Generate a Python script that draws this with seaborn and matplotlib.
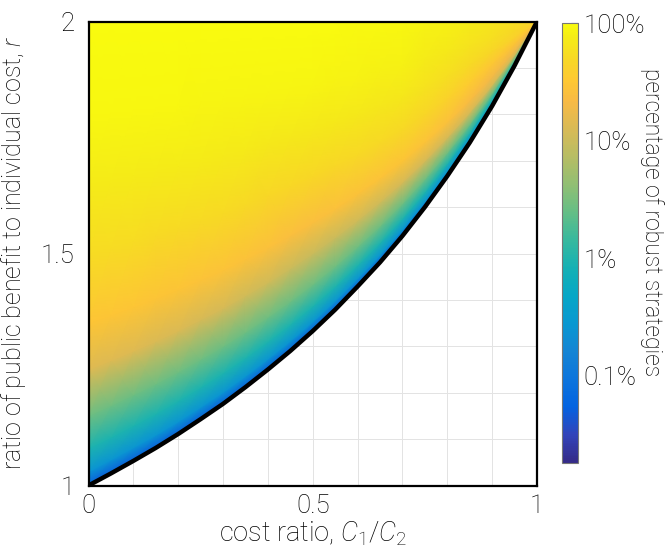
import numpy as np
import matplotlib
matplotlib.use("Agg")
import matplotlib.pyplot as plt
import seaborn as sns
from matplotlib.colors import LinearSegmentedColormap, LogNorm
from matplotlib.ticker import FixedLocator, MultipleLocator, NullFormatter

# ---------------- data ----------------
# cost ratio C1/C2 sample columns
cost_ratio = [0.00, 0.05, 0.10, 0.15, 0.20, 0.25, 0.30, 0.35, 0.40, 0.45, 0.50,
              0.55, 0.60, 0.65, 0.70, 0.75, 0.80, 0.85, 0.90, 0.95, 1.00]
# boundary curve r (lower edge of the feasible region, black line)
boundary_r = [1.000, 1.026, 1.053, 1.081, 1.111, 1.143, 1.176, 1.212, 1.250, 1.290, 1.333,
              1.379, 1.429, 1.481, 1.538, 1.600, 1.667, 1.739, 1.818, 1.905, 2.000]
# fractional height between boundary (0) and r = 2 (1)
height_frac = [0.00, 0.03, 0.08, 0.15, 0.25, 0.35, 0.50, 0.65, 0.80, 1.00]
# percentage of robust strategies, one row per height fraction, one column per cost ratio
pct_row_000 = [0.05] * 21
pct_row_003 = [0.25] * 21
pct_row_008 = [0.95] * 21
pct_row_015 = [2.8] * 21
pct_row_025 = [14, 14, 14, 13, 13, 12, 12, 11, 11, 10, 10, 10, 11, 11, 12, 12, 12, 12, 12, 12, 12]
pct_row_035 = [30, 30, 30, 29, 29, 28, 28, 27, 26, 25, 25, 26, 27, 28, 29, 28, 26, 23, 20, 19, 18]
pct_row_050 = [53, 53, 53, 52, 52, 51, 51, 50, 49, 48, 48, 49, 50, 50, 50, 47, 42, 36, 31, 29, 28]
pct_row_065 = [76, 76, 75, 75, 74, 74, 73, 72, 71, 70, 70, 70, 70, 69, 68, 64, 58, 52, 47, 42, 36]
pct_row_080 = [92, 92, 92, 91, 91, 90, 90, 89, 89, 88, 88, 87, 86, 84, 82, 76, 70, 63, 57, 48, 40]
pct_row_100 = [100, 100, 100, 100, 100, 100, 100, 100, 100, 100, 99, 98, 96, 94, 91, 87, 82, 75, 66, 55, 42]

cbar_ticks = [0.1, 1, 10, 100]
cbar_ticklabels = ["0.1%", "1%", "10%", "100%"]
pct_min, pct_max = 0.018, 100

# ---------------- style ----------------
sns.set_style("white")
plt.rcParams["font.family"] = ["Roboto", "DejaVu Sans"]
plt.rcParams["font.weight"] = "light"
plt.rcParams["axes.labelweight"] = "light"
plt.rcParams["text.color"] = "black"
plt.rcParams["axes.labelcolor"] = "black"
plt.rcParams["xtick.color"] = "black"
plt.rcParams["ytick.color"] = "black"
plt.rcParams["mathtext.fontset"] = "custom"
plt.rcParams["mathtext.rm"] = "Roboto:light"
plt.rcParams["mathtext.it"] = "Roboto:italic:light"

parula_pos = [0, 4, 8, 12, 16, 20, 24, 28, 32, 36, 40, 44, 48, 52, 55, 58, 61, 63]
parula_rgb = [(0.2081, 0.1663, 0.5292), (0.1959, 0.2645, 0.7279), (0.0117, 0.3875, 0.8820),
              (0.0498, 0.4586, 0.8641), (0.0793, 0.5200, 0.8312), (0.0343, 0.5966, 0.8199),
              (0.0228, 0.6535, 0.7768), (0.0843, 0.6928, 0.7062), (0.2178, 0.7250, 0.6193),
              (0.3953, 0.7459, 0.5244), (0.5709, 0.7485, 0.4494), (0.7184, 0.7411, 0.3905),
              (0.8507, 0.7299, 0.3360), (0.9739, 0.7314, 0.2666), (0.9955, 0.7861, 0.1967),
              (0.9697, 0.8481, 0.1475), (0.9598, 0.9218, 0.0948), (0.9763, 0.9831, 0.0538)]
parula = LinearSegmentedColormap.from_list(
    "parula", [(p / 63, c) for p, c in zip(parula_pos, parula_rgb)])

W, H = 665, 550
fig = plt.figure(figsize=(W / 100, H / 100), dpi=100)
ax = fig.add_axes([88.5 / W, 1 - 485.5 / H, 448.5 / W, 464 / H])
cax = fig.add_axes([561.7 / W, 1 - 463.3 / H, 16.6 / W, 440 / H])

# mesh in (cost ratio, r) space
pct = np.array([pct_row_000, pct_row_003, pct_row_008, pct_row_015, pct_row_025,
                pct_row_035, pct_row_050, pct_row_065, pct_row_080, pct_row_100])
X, F = np.meshgrid(np.array(cost_ratio), np.array(height_frac))
RB = np.tile(np.array(boundary_r), (len(height_frac), 1))
R = RB + F * (2 - RB)
mesh = ax.pcolormesh(X, R, pct, shading="gouraud", cmap=parula,
                     norm=LogNorm(vmin=pct_min, vmax=pct_max), zorder=1)

sns.lineplot(x=cost_ratio, y=boundary_r, ax=ax, color="black", lw=3.2,
             sort=False, estimator=None, zorder=3, legend=False)

ax.set_xlim(0, 1)
ax.set_ylim(1, 2)
ax.set_xticks([0, 0.5, 1])
ax.set_xticklabels(["0", "0.5", "1"])
ax.set_yticks([1, 1.5, 2])
ax.set_yticklabels(["1", "1.5", "2"])
ax.xaxis.set_minor_locator(MultipleLocator(0.1))
ax.yaxis.set_minor_locator(MultipleLocator(0.1))
ax.grid(True, which="both", color="#e3e3e3", lw=0.7)
ax.set_axisbelow(True)
ax.tick_params(which="both", direction="in", top=False, right=False, length=5,
               width=0.8, color="#444444", labelsize=18.5)
ax.tick_params(axis="x", pad=6)
ax.tick_params(axis="y", pad=10)
for sp in ax.spines.values():
    sp.set_linewidth(1.6)
    sp.set_color("black")
    sp.set_zorder(5)

ax.set_xlabel(r"cost ratio, $\mathit{C_1/C_2}$", fontsize=19.5, fontweight="light")
ax.xaxis.set_label_coords(0.5, (485.5 - 534) / 464)
ax.xaxis.label.set_va("center")
ax.set_ylabel(r"ratio of public benefit to individual cost, $\mathit{r}$", fontsize=18,
              fontweight="light")
ax.yaxis.set_label_coords((13.5 - 88.5) / 448.5, 0.5)
ax.yaxis.label.set_va("center")
ax.yaxis.label.set_ha("center")

cb = fig.colorbar(mesh, cax=cax)
cb.set_ticks(cbar_ticks)
cb.set_ticklabels(cbar_ticklabels)
cax.yaxis.set_minor_locator(FixedLocator([10 ** -1.5, 10 ** -0.5, 10 ** 0.5, 10 ** 1.5]))
cax.yaxis.set_minor_formatter(NullFormatter())
cax.tick_params(which="both", direction="in", length=5, width=0.8, color="#444444",
                labelsize=18.5, pad=4)
cb.outline.set_edgecolor("#777777")
cb.outline.set_linewidth(0.8)

fig.text(651.7 / W, 1 - 222 / H, "percentage of robust strategies", rotation=270,
         ha="center", va="center", fontsize=16.5, fontweight="light")

fig.savefig("out.png", dpi=100)
